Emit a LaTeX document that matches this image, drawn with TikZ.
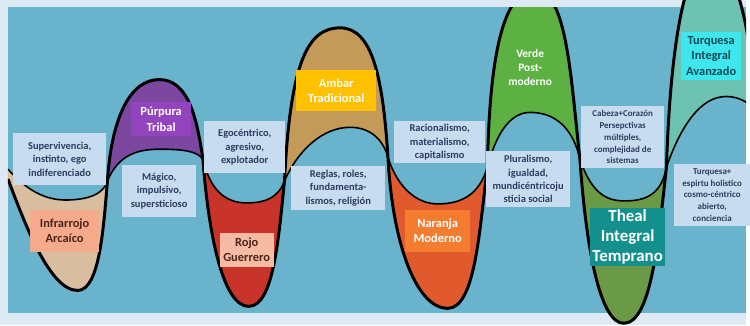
\documentclass[tikz,border=0pt]{standalone}
\usepackage{fontspec}
\setmainfont{Carlito}
\definecolor{frame}{HTML}{DDE9F3}
\definecolor{sea}{HTML}{6AB3CC}
\definecolor{boxblue}{HTML}{C8DCF0}
\definecolor{navy}{HTML}{2E3B5E}
\definecolor{beige}{HTML}{D8BE9E}
\definecolor{purple}{HTML}{7C479F}
\definecolor{red}{HTML}{C9342A}
\definecolor{amber}{HTML}{C49A58}
\definecolor{orange}{HTML}{E15A2E}
\definecolor{green}{HTML}{5DB143}
\definecolor{olive}{HTML}{6B9A47}
\definecolor{turq}{HTML}{6EC2B2}
\definecolor{salmon}{HTML}{F5AA8C}
\definecolor{pinkish}{HTML}{F7BBA3}
\definecolor{brownish}{HTML}{4A2418}
\definecolor{violet}{HTML}{9244BE}
\definecolor{gold}{HTML}{FFC000}
\definecolor{carrot}{HTML}{F47C2F}
\definecolor{theal}{HTML}{13908D}
\definecolor{cyanbox}{HTML}{3EE6EE}
\definecolor{deepteal}{HTML}{0C4C57}
\begin{document}
\begin{tikzpicture}[x=1pt,y=-1pt,
  desc/.style 2 args={fill=boxblue,text=navy,align=center,inner sep=1pt,minimum width=#1,minimum height=#2,font=\bfseries\fontsize{10.5}{13.3}\selectfont},
  small/.style={font=\bfseries\fontsize{9}{11.8}\selectfont},
  lvl/.style 2 args={fill=#1,text=#2,align=center,inner sep=2pt,font=\bfseries\fontsize{12.5}{15.5}\selectfont},
  wave/.style={line width=3pt,line join=round},
  inner/.style={line width=1.6pt}]
\fill[frame] (0,0) rectangle (750,327);
\fill[sea] (8,7) rectangle (750,315);
\begin{scope}
\clip (8,0) rectangle (750,327);
% lobes: outer wave, then inner curve back
\fill[beige] (8,180) .. controls (25,225) and (50,292) .. (78,292) .. controls (100,292) and (104,230) .. (108,182)
  .. controls (105,192) and (95,200) .. (70,201) .. controls (50,202) and (30,195) .. (8,170) -- cycle;
\fill[purple] (108,182) .. controls (112,120) and (130,80) .. (160,80) .. controls (190,80) and (198,120) .. (204,160)
  .. controls (198,152) and (185,150) .. (160,150) .. controls (135,150) and (118,158) .. (108,182) -- cycle;
\fill[red] (204,160) .. controls (210,240) and (225,308) .. (250,308) .. controls (275,308) and (280,240) .. (286,182)
  .. controls (280,198) and (268,204) .. (248,204) .. controls (230,204) and (212,195) .. (204,160) -- cycle;
\fill[amber] (286,182) .. controls (292,60) and (310,28) .. (342,28) .. controls (375,28) and (385,80) .. (390,158)
  .. controls (385,140) and (372,128) .. (352,128) .. controls (325,128) and (300,150) .. (286,182) -- cycle;
\fill[orange] (390,158) .. controls (395,250) and (420,310) .. (450,310) .. controls (478,310) and (482,230) .. (490,168)
  .. controls (482,195) and (465,205) .. (440,205) .. controls (420,205) and (400,190) .. (390,158) -- cycle;
\fill[green] (490,168) .. controls (492,60) and (505,-10) .. (538,-10) .. controls (570,-10) and (574,80) .. (583,160)
  .. controls (575,125) and (555,113) .. (533,113) .. controls (515,113) and (500,130) .. (490,168) -- cycle;
\fill[olive] (583,160) .. controls (590,260) and (605,325) .. (627,325) .. controls (655,325) and (662,240) .. (670,168)
  .. controls (665,195) and (650,202) .. (628,202) .. controls (610,202) and (595,195) .. (583,160) -- cycle;
\fill[turq] (670,168) .. controls (674,40) and (690,-40) .. (712,-40) .. controls (740,-40) and (752,20) .. (760,100)
  -- (765,115) .. controls (755,105) and (745,97) .. (730,97) .. controls (705,97) and (685,125) .. (670,168) -- cycle;
% inner curves
\draw[inner] (8,170) .. controls (30,195) and (50,202) .. (70,201) .. controls (95,200) and (105,192) .. (108,182);
\draw[inner] (108,182) .. controls (118,158) and (135,150) .. (160,150) .. controls (185,150) and (198,152) .. (204,160);
\draw[inner] (204,160) .. controls (212,195) and (230,204) .. (248,204) .. controls (268,204) and (280,198) .. (286,182);
\draw[inner] (286,182) .. controls (300,150) and (325,128) .. (352,128) .. controls (372,128) and (385,140) .. (390,158);
\draw[inner] (390,158) .. controls (400,190) and (420,205) .. (440,205) .. controls (465,205) and (482,195) .. (490,168);
\draw[inner] (490,168) .. controls (500,130) and (515,113) .. (533,113) .. controls (555,113) and (575,125) .. (583,160);
\draw[inner] (583,160) .. controls (595,195) and (610,202) .. (628,202) .. controls (650,202) and (665,195) .. (670,168);
\draw[inner] (670,168) .. controls (685,125) and (705,97) .. (730,97) .. controls (745,97) and (755,105) .. (765,115);
% the wave
\draw[wave] (8,180) .. controls (25,225) and (50,292) .. (78,292) .. controls (100,292) and (104,230) .. (108,182)
  .. controls (112,120) and (130,80) .. (160,80) .. controls (190,80) and (198,120) .. (204,160)
  .. controls (210,240) and (225,308) .. (250,308) .. controls (275,308) and (280,240) .. (286,182)
  .. controls (292,60) and (310,28) .. (342,28) .. controls (375,28) and (385,80) .. (390,158)
  .. controls (395,250) and (420,310) .. (450,310) .. controls (478,310) and (482,230) .. (490,168)
  .. controls (492,60) and (505,-10) .. (538,-10) .. controls (570,-10) and (574,80) .. (583,160)
  .. controls (590,260) and (605,325) .. (627,325) .. controls (655,325) and (662,240) .. (670,168)
  .. controls (674,40) and (690,-40) .. (712,-40) .. controls (740,-40) and (752,20) .. (760,100);
\end{scope}
\fill[frame] (0,0) rectangle (657,7);

% descriptions
\node[desc={94pt}{52pt}] (Surv) at (60,160) {Supervivencia,\\ instinto, ego\\ indiferenciado};
\node[desc={74pt}{52pt}] (Mag) at (160,192) {Mágico,\\ impulsivo,\\ supersticioso};
\node[desc={82pt}{52pt}] (Ego) at (246,148) {Egocéntrico,\\ agresivo,\\ explotador};
\node[desc={94pt}{44pt}] (Regl) at (340,189) {Reglas, roles,\\ fundamenta-\\ lismos, religión};
\node[desc={92pt}{42pt}] (Rac) at (442,143) {Racionalismo,\\ materialismo,\\ capitalismo};
\node[desc={84pt}{56pt}] (Plur) at (531,180) {Pluralismo,\\ igualdad,\\ mundicéntricoju\\ sticia social};
\node[desc={84pt}{62pt},small] (Cab) at (626,138) {Cabeza+Corazón\\ Persepctivas\\ múltiples,\\ complejidad de\\ sistemas};
\node[desc={76pt}{62pt},small] (Turp) at (716,196) {Turquesa+\\ espirtu holistico\\ cosmo-céntrico\\ abierto,\\ conciencia};

% levels
\node[lvl={salmon}{brownish},minimum width=70pt,minimum height=42pt] (Infra) at (65,232) {Infrarrojo\\ Arcaíco};
\node[lvl={violet}{white},minimum width=60pt,minimum height=34pt] (Purp) at (162,120) {Púrpura\\ Tribal};
\node[lvl={pinkish}{brownish},minimum width=54pt,minimum height=34pt] (Rojo) at (248,251) {Rojo\\ Guerrero};
\node[lvl={gold}{white},minimum width=80pt,minimum height=42pt] (Amb) at (338,91) {Ambar\\ Tradicional};
\node[lvl={carrot}{white},minimum width=66pt,minimum height=42pt] (Nar) at (440,232) {Naranja\\ Moderno};
\node[lvl={green}{white},fill=none,font=\bfseries\fontsize{11.5}{14}\selectfont] (Ver) at (533,68) {Verde\\ Post-\\ moderno};
\node[lvl={theal}{white},minimum width=72pt,minimum height=58pt,font=\bfseries\fontsize{17}{20}\selectfont] (Theal) at (631,238) {Theal\\ Integral\\ Temprano};
\node[lvl={cyanbox}{deepteal},minimum width=60pt,minimum height=48pt] (TurA) at (715,56) {Turquesa\\ Integral\\ Avanzado};
\end{tikzpicture}
\end{document}
